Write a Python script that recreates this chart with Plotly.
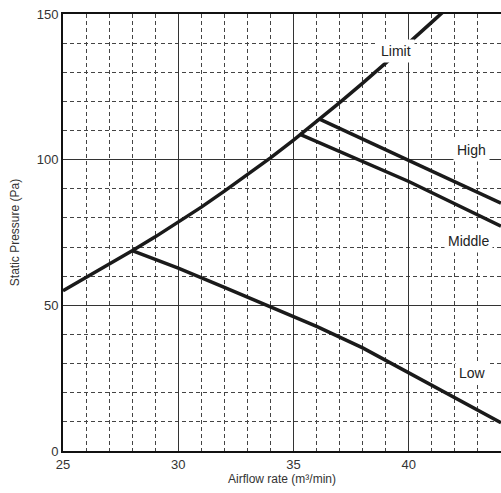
import plotly.graph_objects as go

# Data
limit_x = [25, 26, 27, 28, 29, 30, 31, 32, 33, 34, 35, 36, 37, 38, 39, 40, 41, 41.5]
limit_y = [55, 59.5, 64, 68.7, 73.5, 78.5, 83.7, 89.2, 94.8, 100.6, 106.7, 113, 119.6, 126.3, 133.1, 140.1, 147.2, 150.8]

high_x = [36.13, 40, 44]
high_y = [113.9, 99.8, 85.1]

middle_x = [35.26, 37, 40, 44]
middle_y = [108.8, 102.8, 92.5, 77.2]

low_x = [28.03, 30, 32, 34, 36, 38, 40, 42, 44]
low_y = [68.7, 62.8, 56.2, 49.4, 42.8, 35.4, 26.9, 18.3, 9.7]

labels = ["Limit", "High", "Middle", "Low"]
label_x = [39.43, 42.72, 42.59, 42.77]
label_y = [137.4, 103.3, 72.0, 26.7]

x_ticks = [25, 30, 35, 40]
y_ticks = [0, 50, 100, 150]

line_style = dict(color="#1a1a1a", width=3.5)

fig = go.Figure()
for xs, ys, name in [(limit_x, limit_y, "Limit"), (high_x, high_y, "High"),
                     (middle_x, middle_y, "Middle"), (low_x, low_y, "Low")]:
    fig.add_trace(go.Scatter(x=xs, y=ys, mode="lines", name=name,
                             line=line_style, showlegend=False, hoverinfo="skip"))

for t, lx, ly in zip(labels, label_x, label_y):
    fig.add_annotation(x=lx, y=ly, text=t, showarrow=False,
                       font=dict(family="Liberation Sans, Arial", size=14, color="#222"),
                       bgcolor="white", borderpad=3)

font = dict(family="Liberation Sans, Arial", size=13, color="#333")

fig.update_layout(
    width=501, height=493,
    margin=dict(l=63, r=0, t=14, b=42),
    plot_bgcolor="white", paper_bgcolor="white",
    font=font,
    xaxis=dict(
        range=[25, 44], tickvals=x_ticks, ticktext=[str(v) for v in x_ticks],
        showgrid=True, gridcolor="#333", gridwidth=1,
        minor=dict(dtick=1, showgrid=True, gridcolor="#444", gridwidth=1, griddash="4px,3px"),
        showline=True, linecolor="#111", linewidth=2, mirror=True,
        ticks="", zeroline=False,
        title=dict(text="Airflow rate (m³/min)", font=dict(size=12, color="#333"), standoff=4),
    ),
    yaxis=dict(
        range=[0, 150], tickvals=y_ticks, ticktext=[str(v) for v in y_ticks],
        showgrid=True, gridcolor="#333", gridwidth=1,
        minor=dict(dtick=10, showgrid=True, gridcolor="#444", gridwidth=1, griddash="4px,3px"),
        showline=True, linecolor="#111", linewidth=2, mirror=False,
        ticks="", zeroline=False,
        title=dict(text="Static Pressure (Pa)", font=dict(size=12, color="#333"), standoff=14),
    ),
)

fig.write_html("out.html", config={"displayModeBar": False},
               post_script="document.body.style.margin='0';")
